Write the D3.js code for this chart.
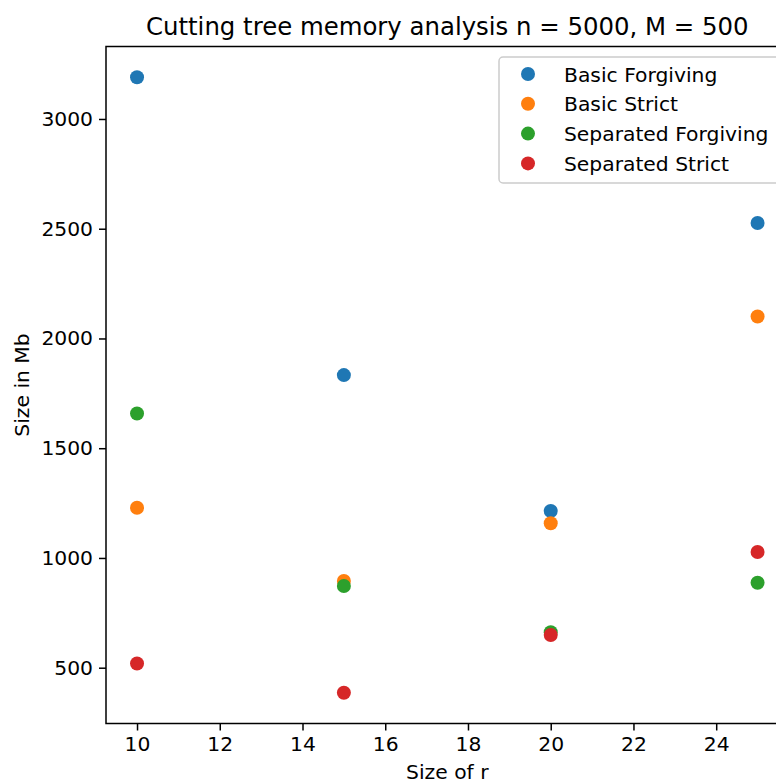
<!DOCTYPE html>
<html>
<head>
<meta charset="utf-8">
<script src="https://cdn.jsdelivr.net/npm/d3@7"></script>
<style>
  body { margin: 0; background: #fff; }
  svg { font-family: "DejaVu Sans", sans-serif; display: block; }
</style>
</head>
<body>
<svg id="chart" width="776" height="783"></svg>
<script>
// values
const rSizes = [10, 15, 20, 25]
const seriesNames = ['Basic Forgiving', 'Basic Strict', 'Separated Forgiving', 'Separated Strict']
const basicForgiving = [3190, 1833, 1214, 2526]
const basicStrict = [1229, 895, 1158, 2100]
const separatedForgiving = [1658, 872, 662, 887]
const separatedStrict = [519, 386, 649, 1027]
const xTicks = [10, 12, 14, 16, 18, 20, 22, 24]
const yTicks = [500, 1000, 1500, 2000, 2500, 3000]

const colors = ['#1f77b4', '#ff7f0e', '#2ca02c', '#d62728']
const allSeries = [basicForgiving, basicStrict, separatedForgiving, separatedStrict]

const svg = d3.select('#chart')

// plot area (right side runs past the window, like the reference)
const plotLeft = 106, plotRight = 788.6, plotTop = 46.5, plotBottom = 723.5

// matplotlib style 5% margins
const xExt = d3.extent(rSizes)
const xPad = (xExt[1] - xExt[0]) * 0.05
const allVals = allSeries.flat()
const yExt = d3.extent(allVals)
const yPad = (yExt[1] - yExt[0]) * 0.05

const x = d3.scaleLinear()
	.domain([xExt[0] - xPad, xExt[1] + xPad])
	.range([plotLeft, plotRight])

const y = d3.scaleLinear()
	.domain([yExt[0] - yPad, yExt[1] + yPad])
	.range([plotBottom, plotTop])

const tickFont = '20.3px'

// x axis
const xAxis = svg.append('g')
	.attr('transform', `translate(0, ${plotBottom})`)
	.call(d3.axisBottom(x).tickValues(xTicks).tickSize(7).tickPadding(6).tickFormat(d3.format('d')))
xAxis.select('.domain').remove()
xAxis.selectAll('.tick line').attr('stroke', '#000').attr('stroke-width', 1.5)
xAxis.selectAll('.tick text').style('font-size', tickFont).attr('fill', '#000')
	.attr('font-family', '"DejaVu Sans", sans-serif')

// y axis
const yAxis = svg.append('g')
	.attr('transform', `translate(${plotLeft}, 0)`)
	.call(d3.axisLeft(y).tickValues(yTicks).tickSize(7).tickPadding(6).tickFormat(d3.format('d')))
yAxis.select('.domain').remove()
yAxis.selectAll('.tick line').attr('stroke', '#000').attr('stroke-width', 1.5)
yAxis.selectAll('.tick text').style('font-size', tickFont).attr('fill', '#000')
	.attr('font-family', '"DejaVu Sans", sans-serif')

// the points, drawn series by series so later ones sit on top
allSeries.forEach((vals, s) => {
	svg.append('g')
		.selectAll('circle')
		.data(vals)
		.enter()
		.append('circle')
			.attr('cx', (d, i) => x(rSizes[i]))
			.attr('cy', d => y(d))
			.attr('r', 7)
			.attr('fill', colors[s])
})

// spines
svg.append('rect')
	.attr('x', plotLeft)
	.attr('y', plotTop)
	.attr('width', plotRight - plotLeft)
	.attr('height', plotBottom - plotTop)
	.attr('fill', 'none')
	.attr('stroke', '#000')
	.attr('stroke-width', 1.5)

// title and axis labels
svg.append('text')
	.attr('x', (plotLeft + plotRight) / 2)
	.attr('y', 35)
	.attr('text-anchor', 'middle')
	.style('font-size', '24.4px')
	.text('Cutting tree memory analysis n = 5000, M = 500')

svg.append('text')
	.attr('x', (plotLeft + plotRight) / 2)
	.attr('y', 779)
	.attr('text-anchor', 'middle')
	.style('font-size', tickFont)
	.text('Size of r')

svg.append('text')
	.attr('transform', `translate(29, ${(plotTop + plotBottom) / 2}) rotate(-90)`)
	.attr('text-anchor', 'middle')
	.style('font-size', tickFont)
	.text('Size in Mb')

// legend
const legend = svg.append('g')
legend.append('rect')
	.attr('x', 499)
	.attr('y', 57)
	.attr('width', 284)
	.attr('height', 126)
	.attr('rx', 4)
	.attr('fill', 'rgba(255,255,255,0.8)')
	.attr('stroke', '#cccccc')
	.attr('stroke-width', 1.5)

const rows = legend.selectAll('g.row')
	.data(seriesNames)
	.enter()
	.append('g')
	.attr('class', 'row')
	.attr('transform', (d, i) => `translate(0, ${74 + i * 29.8})`)

rows.append('circle')
	.attr('cx', 528)
	.attr('cy', 0)
	.attr('r', 7)
	.attr('fill', (d, i) => colors[i])

rows.append('text')
	.attr('x', 564)
	.attr('y', 7.5)
	.style('font-size', tickFont)
	.text(d => d)
</script>
</body>
</html>
